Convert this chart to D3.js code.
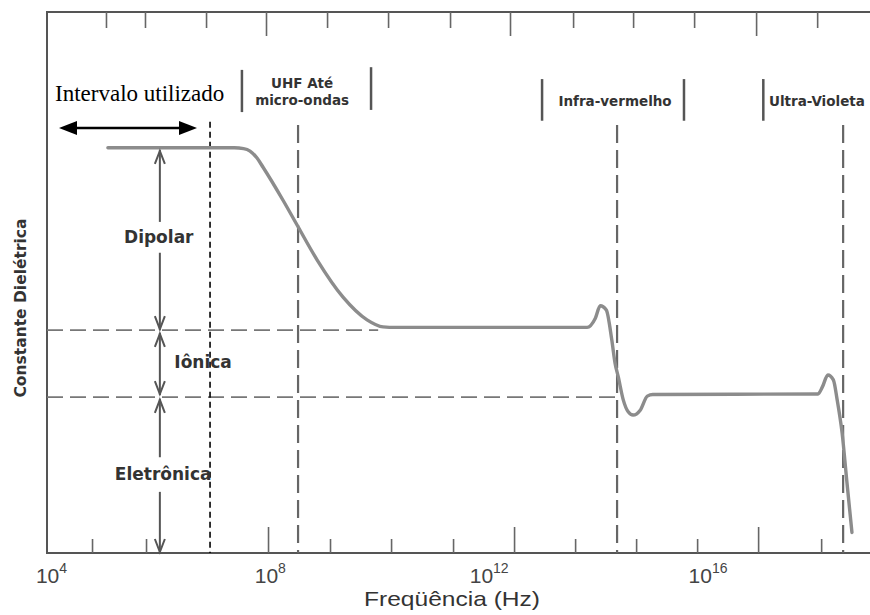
<!DOCTYPE html>
<html><head><meta charset="utf-8">
<script src="https://cdn.jsdelivr.net/npm/d3@7"></script>
<style>body{margin:0;background:#fff}</style></head>
<body>
<svg id="c" width="870" height="615"></svg>
<script>
// ---- data (frequency as log10 exponent, dielectric constant in arbitrary units) ----
const curveExp = [5.04, 7.35, 7.52, 7.638, 7.766, 7.876, 8.241, 8.516, 8.863, 9.338, 9.777, 10.07, 10.3, 13.80, 13.95, 14.04, 14.15, 14.25, 14.31, 14.37, 14.46, 14.55, 14.64, 14.77, 14.90, 15.0, 18.02, 18.10, 18.20, 18.30, 18.37, 18.46, 18.55, 18.64];
const curveVal = [7.49, 7.49, 7.475, 7.43, 7.30, 7.13, 6.52, 6.03, 5.42, 4.73, 4.31, 4.18, 4.17, 4.17, 4.34, 4.57, 4.49, 3.94, 3.51, 3.25, 2.83, 2.61, 2.55, 2.64, 2.90, 2.93, 2.94, 3.07, 3.29, 3.20, 2.83, 2.22, 1.29, 0.38];
const levelVals = [4.12, 2.88];            // boundaries Dipolar/Iônica, Iônica/Eletrônica
const levelEnds = [9.98, 14.31];           // where the dashed level lines stop
const resonanceExp = [8.516, 14.347, 18.479];
const usedLimitExp = 6.907;
const usedRange = [4.146, 6.669];
const bottomMinor = [4.75, 5.737, 9.10, 10.216, 11.349, 13.58, 14.695, 15.81, 18.077];
const bottomMajor = [7.967, 12.464, 16.925];
const topMinor = [5.005, 5.718, 6.834, 9.046, 10.161, 11.294, 13.543, 14.64, 15.755, 18.004];
const topMajor = [7.93, 12.39, 16.888];
const tickLabelExp = [4, 8, 12, 16];
const bandNames = ["Dipolar", "Iônica", "Eletrônica"];
const regionBars = [[7.49, 8.93, 8.15], [9.85, 8.98, 8.19], [12.976, 8.76, 7.99], [15.57, 8.76, 7.99], [17.02, 8.76, 7.99]];
const regionNames = [["UHF Até", "micro-ondas"], ["Infra-vermelho"], ["Ultra-Violeta"]];

// ---- scales ----
const svg = d3.select("#c");
const x = d3.scaleLog().domain([10 ** 3.927, 10 ** 18.97]).range([47, 870]);
const y = d3.scaleLinear().domain([0, 10]).range([553, 12]);
const X = e => x(10 ** e);

// frame
const frameCol = "#555";
svg.append("line").attr("x1", 47).attr("x2", 47).attr("y1", y(10)).attr("y2", y(0)).attr("stroke", frameCol).attr("stroke-width", 2);
svg.append("line").attr("x1", 46).attr("x2", 870).attr("y1", y(10)).attr("y2", y(10)).attr("stroke", frameCol).attr("stroke-width", 2);
svg.append("line").attr("x1", 46).attr("x2", 870).attr("y1", y(0)).attr("y2", y(0)).attr("stroke", frameCol).attr("stroke-width", 2);

function tickAxis(gen, vals, size, ypos) {
  const g = svg.append("g").attr("transform", `translate(0,${ypos})`)
    .call(gen(x).tickValues(vals.map(e => 10 ** e)).tickSizeInner(size).tickSizeOuter(0).tickFormat(""));
  g.select(".domain").remove();
  g.selectAll(".tick line").attr("stroke", "#666").attr("stroke-width", 1.6);
}
tickAxis(d3.axisBottom, bottomMinor, -14, y(0));
tickAxis(d3.axisBottom, bottomMajor, -26, y(0));
tickAxis(d3.axisTop, topMinor, -16, y(10));
tickAxis(d3.axisTop, topMajor, -24, y(10));

// tick labels
const lab = svg.append("g").attr("transform", `translate(0,${y(0)})`)
  .call(d3.axisBottom(x).tickValues(tickLabelExp.map(e => 10 ** e)).tickSize(0).tickFormat(""));
lab.select(".domain").remove();
lab.selectAll(".tick").each(function (d, i) {
  const t = d3.select(this).append("text").attr("y", 30).attr("text-anchor", "middle")
    .attr("font-family", "Liberation Sans, Arial, sans-serif").attr("font-size", 21).attr("fill", "#444");
  t.append("tspan").text("10");
  t.append("tspan").attr("dy", -10).attr("font-size", 14).text(tickLabelExp[i]);
});

// axis titles
svg.append("text").attr("x", 452).attr("y", 606).attr("text-anchor", "middle")
  .attr("font-family", "Liberation Sans, Arial, sans-serif").attr("font-size", 21).attr("fill", "#333")
  .attr("textLength", 176).attr("lengthAdjust", "spacingAndGlyphs")
  .text("Freqüência (Hz)");
svg.append("text").attr("transform", "translate(26,308) rotate(-90)").attr("text-anchor", "middle")
  .attr("font-family", "DejaVu Sans, sans-serif").attr("font-weight", "bold").attr("font-size", 15.5).attr("fill", "#333")
  .text("Constante Dielétrica");

// level dashed lines
levelVals.forEach((v, i) => {
  svg.append("line").attr("x1", 47).attr("x2", X(levelEnds[i])).attr("y1", y(v)).attr("y2", y(v))
    .attr("stroke", "#777").attr("stroke-width", 1.8).attr("stroke-dasharray", "16,7");
});

// resonance dashed verticals
resonanceExp.forEach(e => {
  svg.append("line").attr("x1", X(e)).attr("x2", X(e)).attr("y1", y(7.91)).attr("y2", y(0))
    .attr("stroke", "#666").attr("stroke-width", 2.2).attr("stroke-dasharray", "18,7");
});

// used-interval limit
svg.append("line").attr("x1", X(usedLimitExp)).attr("x2", X(usedLimitExp)).attr("y1", y(7.97)).attr("y2", y(0))
  .attr("stroke", "#000").attr("stroke-width", 1.6).attr("stroke-dasharray", "6,4");

// double arrow
const ay = y(7.856);
svg.append("line").attr("x1", X(usedRange[0]) + 12).attr("x2", X(usedRange[1]) - 12).attr("y1", ay).attr("y2", ay)
  .attr("stroke", "#000").attr("stroke-width", 2.5);
[[usedRange[0], 1], [usedRange[1], -1]].forEach(([e, s]) => {
  const px = X(e);
  svg.append("path").attr("d", `M${px},${ay} L${px + s * 18},${ay - 7} L${px + s * 18},${ay + 7} Z`).attr("fill", "#000");
});
svg.append("text").attr("x", 55).attr("y", 101).attr("font-family", "Liberation Serif, Times New Roman, serif")
  .attr("font-size", 23).attr("fill", "#000").text("Intervalo utilizado");

// curve
const pts = curveExp.map((e, i) => ({ e, v: curveVal[i] }));
svg.append("path").datum(pts)
  .attr("d", d3.line().x(d => X(d.e)).y(d => y(d.v)).curve(d3.curveMonotoneX))
  .attr("fill", "none").attr("stroke", "#8c8c8c").attr("stroke-width", 3.4).attr("stroke-linecap", "round");

// vertical band arrows
const bx = X(5.99);
const arrowCol = "#555";
const segs = [[7.45, 6.12], [5.55, 4.12], [4.07, 2.92], [2.85, 1.77], [1.13, 0.0]];
segs.forEach(s => {
  svg.append("line").attr("x1", bx).attr("x2", bx).attr("y1", y(s[0])).attr("y2", y(s[1]))
    .attr("stroke", arrowCol).attr("stroke-width", 2);
});
const heads = [[7.45, -1], [4.12, 1], [4.07, -1], [2.92, 1], [2.85, -1], [0.0, 1]];
heads.forEach(([v, dir]) => {
  const py = y(v) - (dir > 0 ? 1 : -1);
  svg.append("path").attr("d", `M${bx - 5},${py - dir * 13} L${bx},${py} L${bx + 5},${py - dir * 13}`)
    .attr("fill", "none").attr("stroke", arrowCol).attr("stroke-width", 2);
});
const bandPos = [[5.97, 5.73, "middle"], [6.78, 3.42, "middle"], [6.05, 1.35, "middle"]];
bandNames.forEach((n, i) => {
  svg.append("text").attr("x", X(bandPos[i][0])).attr("y", y(bandPos[i][1])).attr("text-anchor", bandPos[i][2])
    .attr("font-family", "DejaVu Sans, sans-serif").attr("font-weight", "bold").attr("font-size", 17).attr("fill", "#333")
    .text(n);
});

// region bars & names
regionBars.forEach(b => {
  svg.append("line").attr("x1", X(b[0])).attr("x2", X(b[0])).attr("y1", y(b[1])).attr("y2", y(b[2]))
    .attr("stroke", "#555").attr("stroke-width", 2.5);
});
const regionPos = [[8.59, 8.60], [14.31, 8.26], [18.0, 8.26]];
regionNames.forEach((lines, i) => {
  lines.forEach((t, j) => {
    svg.append("text").attr("x", X(regionPos[i][0])).attr("y", y(regionPos[i][1]) + j * 17).attr("text-anchor", "middle")
      .attr("font-family", "DejaVu Sans, sans-serif").attr("font-weight", "bold").attr("font-size", 13.5).attr("fill", "#333")
      .text(t);
  });
});
</script>
</body></html>
